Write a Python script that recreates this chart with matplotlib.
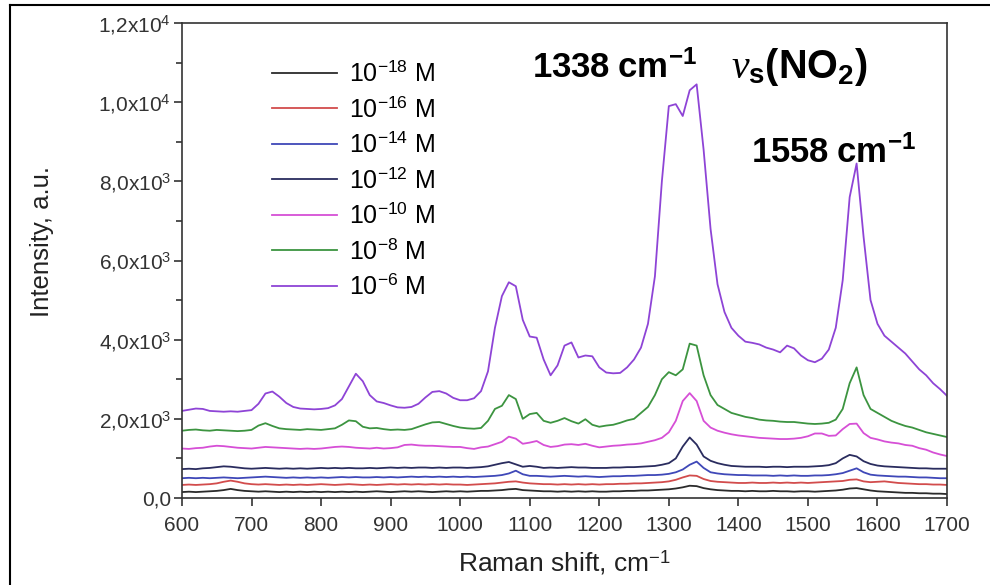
import matplotlib

matplotlib.use("Agg")
import matplotlib.pyplot as plt
import numpy as np
from matplotlib.lines import Line2D
from matplotlib.ticker import FixedLocator, MultipleLocator

plt.rcParams["font.family"] = ["Liberation Sans", "DejaVu Sans"]
plt.rcParams["mathtext.fontset"] = "custom"
plt.rcParams["mathtext.rm"] = "Liberation Sans"
plt.rcParams["mathtext.bf"] = "Liberation Sans:bold"
plt.rcParams["mathtext.it"] = "Liberation Serif:italic"

# Raman shift grid, cm-1
shift = np.arange(600, 1701, 10)

# spectra (a.u.), one value per 10 cm-1 from 600 to 1700
i_18 = [150, 160, 150, 160, 170, 180, 200, 230, 200, 180, 170, 160, 170, 160, 150, 160, 150, 160, 150, 160,
        150, 160, 150, 160, 150, 160, 150, 160, 170, 160, 150, 160, 170, 160, 170, 160, 150, 160, 170, 160,
        170, 160, 170, 180, 180, 190, 200, 220, 230, 200, 190, 180, 170, 170, 160, 170, 160, 170, 160, 170,
        160, 160, 170, 170, 180, 180, 190, 190, 200, 210, 220, 240, 270, 310, 300, 250, 220, 200, 190, 180,
        180, 170, 180, 170, 170, 180, 170, 170, 160, 170, 170, 160, 170, 180, 190, 210, 240, 250, 220, 190,
        170, 160, 150, 140, 130, 130, 120, 120, 110, 110, 100]
i_16 = [330, 340, 330, 340, 350, 370, 410, 440, 410, 370, 350, 340, 350, 340, 330, 340, 330, 340, 330, 340,
        350, 340, 330, 340, 350, 340, 330, 340, 330, 340, 350, 340, 350, 340, 350, 340, 350, 340, 350, 340,
        340, 330, 340, 350, 360, 370, 390, 410, 420, 390, 370, 360, 350, 350, 340, 350, 340, 350, 340, 350,
        340, 350, 350, 360, 360, 370, 370, 380, 390, 400, 420, 460, 520, 570, 560, 480, 430, 410, 400, 390,
        380, 380, 390, 380, 380, 390, 380, 390, 380, 390, 380, 390, 400, 410, 420, 430, 460, 470, 420, 400,
        410, 420, 400, 380, 370, 360, 350, 350, 340, 340, 330]
i_14 = [500, 510, 500, 510, 500, 510, 520, 510, 500, 510, 520, 530, 540, 530, 520, 510, 520, 510, 520, 510,
        520, 510, 520, 530, 520, 530, 520, 520, 530, 520, 530, 520, 530, 540, 530, 540, 530, 540, 530, 540,
        530, 540, 530, 540, 550, 560, 580, 620, 690, 600, 560, 560, 550, 540, 550, 560, 550, 540, 550, 540,
        530, 540, 550, 550, 560, 560, 570, 580, 580, 590, 610, 650, 720, 840, 920, 760, 650, 620, 600, 590,
        580, 580, 570, 570, 570, 560, 570, 560, 570, 560, 560, 570, 570, 580, 600, 630, 690, 750, 650, 590,
        570, 560, 550, 540, 540, 530, 520, 520, 510, 500, 500]
i_12 = [730, 740, 730, 750, 760, 780, 800, 790, 770, 750, 740, 750, 760, 750, 740, 750, 740, 750, 740, 750,
        760, 750, 760, 750, 760, 750, 750, 760, 750, 760, 770, 760, 770, 760, 770, 770, 760, 770, 760, 770,
        770, 760, 770, 780, 800, 840, 880, 910, 850, 790, 810, 790, 760, 770, 760, 770, 780, 770, 770, 760,
        760, 760, 770, 770, 780, 780, 790, 800, 810, 840, 880, 1000, 1300, 1530, 1350, 1050, 940, 880, 840, 810,
        800, 790, 790, 790, 780, 790, 790, 780, 790, 790, 790, 800, 810, 830, 880, 1000, 1090, 1050, 930, 860,
        820, 800, 790, 780, 770, 760, 750, 750, 740, 740, 740]
i_10 = [1250, 1240, 1260, 1270, 1300, 1320, 1310, 1290, 1270, 1260, 1250, 1270, 1290, 1280, 1270, 1260,
        1250, 1240, 1250, 1240, 1250, 1270, 1290, 1300, 1290, 1270, 1260, 1250, 1270, 1250, 1260, 1280,
        1340, 1350, 1330, 1320, 1320, 1310, 1300, 1290, 1290, 1260, 1240, 1280, 1300, 1360, 1420, 1550,
        1500, 1370, 1400, 1440, 1340, 1290, 1310, 1350, 1360, 1340, 1370, 1320, 1280, 1300, 1320, 1330,
        1350, 1360, 1380, 1420, 1460, 1520, 1660, 1950, 2450, 2650, 2450, 1950, 1780, 1700, 1650, 1610,
        1580, 1560, 1540, 1520, 1510, 1500, 1490, 1490, 1500, 1520, 1560, 1630, 1630, 1570, 1580, 1740,
        1870, 1880, 1640, 1520, 1480, 1430, 1400, 1380, 1340, 1320, 1260, 1220, 1150, 1100, 1060]
i_8 = [1700, 1720, 1730, 1710, 1700, 1720, 1710, 1700, 1690, 1700, 1720, 1830, 1890, 1820, 1760, 1740,
       1730, 1720, 1740, 1730, 1720, 1740, 1760, 1850, 1960, 1940, 1800, 1760, 1770, 1740, 1720, 1730,
       1720, 1740, 1800, 1860, 1910, 1920, 1870, 1820, 1780, 1760, 1750, 1770, 1950, 2250, 2330, 2600,
       2500, 2000, 2120, 2150, 1950, 1900, 1950, 2020, 1940, 1880, 1990, 1850, 1800, 1830, 1850, 1900,
       1960, 2000, 2150, 2300, 2600, 3000, 3180, 3100, 3250, 3900, 3850, 3100, 2600, 2350, 2250, 2150,
       2100, 2050, 2020, 1980, 1960, 1950, 1930, 1920, 1920, 1900, 1880, 1870, 1880, 1900, 1980, 2250,
       2900, 3300, 2600, 2250, 2150, 2050, 1950, 1880, 1820, 1780, 1720, 1660, 1620, 1580, 1540]
i_6 = [2200, 2230, 2260, 2250, 2200, 2190, 2180, 2190, 2180, 2200, 2220, 2380, 2640, 2690, 2560, 2400,
       2300, 2260, 2250, 2240, 2250, 2270, 2340, 2500, 2820, 3140, 2950, 2600, 2440, 2400, 2340, 2290,
       2280, 2300, 2380, 2540, 2680, 2700, 2640, 2530, 2470, 2470, 2520, 2700, 3200, 4300, 5100, 5450,
       5350, 4500, 4080, 4050, 3500, 3100, 3350, 3850, 3930, 3550, 3600, 3580, 3300, 3170, 3150, 3160,
       3300, 3500, 3800, 4400, 5600, 8000, 9900, 9950, 9650, 10300, 10450, 8800, 6800, 5400, 4700, 4300,
       4100, 3950, 3920, 3880, 3800, 3750, 3680, 3850, 3780, 3600, 3480, 3430, 3520, 3750, 4300, 5500,
       7600, 8450, 6600, 5000, 4400, 4100, 3950, 3800, 3650, 3450, 3250, 3100, 2900, 2750, 2580]

series = [i_18, i_16, i_14, i_12, i_10, i_8, i_6]
labels = [r"10$^{-18}$ M", r"10$^{-16}$ M", r"10$^{-14}$ M", r"10$^{-12}$ M",
          r"10$^{-10}$ M", r"10$^{-8}$ M", r"10$^{-6}$ M"]
colors = ["#2b2b2b", "#d24c4c", "#3f48b8", "#2a2c5e", "#d64fd6", "#3c9440", "#8e44d6"]

yticks = [0, 2000, 4000, 6000, 8000, 10000, 12000]
ytick_labels = ["0,0", r"2,0x10$^{3}$", r"4,0x10$^{3}$", r"6,0x10$^{3}$",
                r"8,0x10$^{3}$", r"1,0x10$^{4}$", r"1,2x10$^{4}$"]

fig = plt.figure(figsize=(9.9, 5.85), dpi=100)
ax = fig.add_axes([0.1838, 0.1487, 0.7728, 0.812])

for y, lab, c in zip(series, labels, colors):
    ax.plot(shift, y, color=c, lw=1.3, label=lab)

ax.set_xlim(600, 1700)
ax.set_ylim(0, 12000)
ax.xaxis.set_major_locator(MultipleLocator(100))
ax.yaxis.set_major_locator(FixedLocator(yticks))
ax.set_yticklabels(ytick_labels)
ax.yaxis.set_minor_locator(MultipleLocator(1000))
ax.tick_params(axis="both", which="major", direction="out", length=6, width=1.2,
               labelsize=15, labelcolor="#333333", color="#333333")
ax.tick_params(axis="y", which="minor", direction="out", length=4, width=1.2, color="#333333")
ax.tick_params(axis="x", pad=7)
ax.tick_params(axis="y", pad=2)
for s in ax.spines.values():
    s.set_linewidth(1.2)
    s.set_color("#333333")

ax.set_xlabel(r"Raman shift, cm$^{-1}$", fontsize=19, color="#222222")
ax.set_ylabel("Intensity, a.u.", fontsize=18.5, color="#222222")
ax.xaxis.set_label_coords(0.5, -0.105)
ax.yaxis.set_label_coords(-0.167, 0.54)

ax.legend(loc="upper left", bbox_to_anchor=(0.105, 0.94), frameon=False, fontsize=18,
          handlelength=2.6, handletextpad=0.45, labelspacing=0.42, borderaxespad=0)

ax.text(1222, 10610, r"$\mathbf{1338\ cm^{-1}}$", fontsize=25, ha="center", va="baseline")
ax.text(1487, 10610, r"$\mathit{\nu}_{\mathbf{s}}\mathbf{(NO_2)}$", fontsize=28.5,
        ha="center", va="baseline")
ax.text(1537, 8462, r"$\mathbf{1558\ cm^{-1}}$", fontsize=25, ha="center", va="baseline")

# outer frame of the picture
fig.add_artist(Line2D([10 / 990, 10 / 990], [0, 1 - 5 / 585], color="black", lw=1.5))
fig.add_artist(Line2D([10 / 990, 1], [1 - 5 / 585, 1 - 5 / 585], color="black", lw=1.5))

fig.savefig("out.png", dpi=100)
